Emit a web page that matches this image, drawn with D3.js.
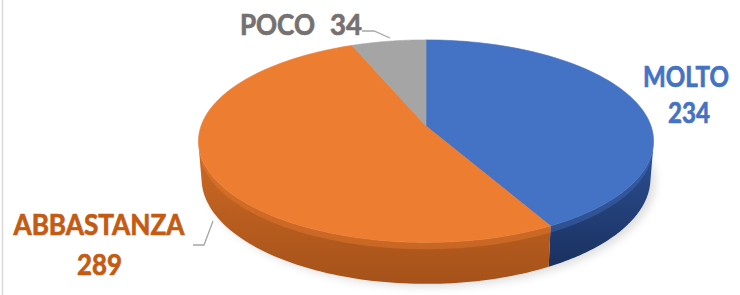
<!DOCTYPE html>
<html><head><meta charset="utf-8">
<script src="https://cdn.jsdelivr.net/npm/d3@7"></script>
<style>html,body{margin:0;padding:0;background:#fff;}svg{display:block;}</style>
</head><body>
<svg id="chart" width="740" height="295"></svg>
<script>
const categories = ["MOLTO", "ABBASTANZA", "POCO"];
const values = [234, 289, 34];
const valueLabels = ["234", "289", "34"];

const topColors = ["#4472C4", "#ED7D31", "#A5A5A5"];
const sideTop = ["#2d5094", "#cf6a25", "#8a8a8a"];
const sideBottom = ["#1a3160", "#a5521a", "#6d6d6d"];
const labelColors = ["#4472C4", "#C55A11", "#767171"];

const W = 740, H = 295;
// perspective projection of a tilted disc
const cx = 426, cy0 = 126, F = 225, k = 6, tilt = Math.asin(0.44), thick = 0.185;
const s = Math.sin(tilt), c = Math.cos(tilt);
function proj(theta, w, rr = 1) {
  const u = rr * Math.sin(theta), v = rr * Math.cos(theta);
  const Yc = v * s + w * c, Dc = k + v * c - w * s;
  return [cx + F * k * u / Dc, cy0 - F * k * Yc / Dc];
}

const svg = d3.select("#chart");
const defs = svg.append("defs");

// left border
svg.append("line").attr("x1", 2.5).attr("x2", 2.5).attr("y1", 0).attr("y2", H)
  .attr("stroke", "#d9d9d9").attr("stroke-width", 1.5);

const blur = defs.append("filter").attr("id", "blur").attr("x", "-20%").attr("y", "-20%").attr("width", "140%").attr("height", "140%");
blur.append("feGaussianBlur").attr("stdDeviation", 4);

categories.forEach((cat, i) => {
  const g = defs.append("linearGradient").attr("id", "side" + i).attr("x1", 0).attr("y1", 0).attr("x2", 0).attr("y2", 1);
  g.append("stop").attr("offset", "0%").attr("stop-color", sideTop[i]);
  g.append("stop").attr("offset", "100%").attr("stop-color", sideBottom[i]);
});

const pie = d3.pie().sort(null).value(d => d)(values);
const line = d3.line();
const N = 80;
const sample = (a0, a1, w) => d3.range(N + 1).map(j => proj(a0 + (a1 - a0) * j / N, w));

// shadow
const shadowPts = sample(0, 2 * Math.PI, -thick).map(p => [p[0] + 5, p[1] + 3]);
svg.append("path").attr("d", line(shadowPts) + "Z").attr("fill", "rgba(0,0,0,0.13)").attr("filter", "url(#blur)");

// visible side range (cylinder faces camera)
const thA = Math.acos(-1 / (k * c)), thB = 2 * Math.PI - thA;
const sides = svg.append("g");
pie.forEach((p, i) => {
  const a = Math.max(p.startAngle, thA), e = Math.min(p.endAngle, thB);
  if (a >= e) return;
  const topPts = sample(a, e, 0);
  const botPts = sample(a, e, -thick).reverse();
  sides.append("path").attr("d", line(topPts.concat(botPts)) + "Z").attr("fill", `url(#side${i})`);
  const rim = sample(a, e, -0.03).reverse();
  sides.append("path").attr("d", line(topPts.concat(rim)) + "Z").attr("fill", topColors[i]).attr("opacity", 0.4);
});

// top faces
svg.append("g").selectAll("path").data(pie).join("path")
  .attr("d", d => line([proj(0, 0, 0)].concat(sample(d.startAngle, d.endAngle, 0))) + "Z")
  .attr("fill", (d, i) => topColors[i])
  .attr("stroke", (d, i) => topColors[i]).attr("stroke-width", 0.6).attr("stroke-linejoin", "round");

// labels: scaled horizontally to the reference width (narrow Calibri-like look)
const font = "Lato, 'Open Sans', sans-serif";
function label(txt, x, y, color, len, anchor) {
  const g = svg.append("g");
  const t = g.append("text").attr("x", 0).attr("y", 0).attr("text-anchor", "start")
    .attr("font-family", font).attr("font-weight", 700).attr("font-size", 28)
    .attr("fill", color).attr("stroke", color).attr("stroke-width", 0.7).text(txt);
  const natural = t.node().getComputedTextLength();
  const sx = len / natural;
  const left = anchor === "start" ? x : x - len / 2;
  g.attr("transform", `translate(${left},${y}) scale(${sx},1)`);
}
label(categories[0], 686, 87, labelColors[0], 86);
label(valueLabels[0], 689, 123, labelColors[0], 42);
label(categories[1], 99, 235, labelColors[1], 171);
label(valueLabels[1], 99.5, 275, labelColors[1], 45);
label(categories[2], 240, 35, labelColors[2], 75, "start");
label(valueLabels[2], 330, 35, labelColors[2], 32, "start");

// leader lines
const lead = "#a6a6a6";
svg.append("path").attr("d", "M362,31 L374,31 L390,38").attr("fill", "none").attr("stroke", lead).attr("stroke-width", 1.3);
svg.append("path").attr("d", "M193,245 L204,245 L213,221").attr("fill", "none").attr("stroke", lead).attr("stroke-width", 1.3);
</script>
</body></html>
